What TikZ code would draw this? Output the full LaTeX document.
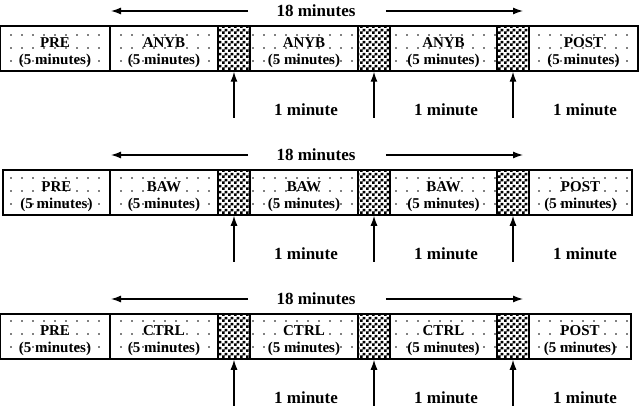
\documentclass[tikz,border=0pt]{standalone}
\usepackage{fontspec}
\setmainfont{Liberation Serif}
\usetikzlibrary{arrows.meta,patterns}
\pgfdeclarepatternformonly{sparsedots}{\pgfqpoint{-1pt}{-1pt}}{\pgfqpoint{1pt}{1pt}}{\pgfqpoint{11pt}{13pt}}{
	\pgfpathcircle{\pgfpointorigin}{0.8pt}\pgfusepath{fill}}
\pgfdeclarepatternformonly{checks}{\pgfpointorigin}{\pgfqpoint{6pt}{6pt}}{\pgfqpoint{6pt}{6pt}}{
	\pgfpathrectangle{\pgfpointorigin}{\pgfqpoint{3pt}{3pt}}
	\pgfpathrectangle{\pgfqpoint{3pt}{3pt}}{\pgfqpoint{3pt}{3pt}}\pgfusepath{fill}}
\tikzset{
	phase/.style={draw, line width=1.3pt, pattern=sparsedots, inner sep=0pt, minimum height=45pt,
		align=center, font=\fontsize{15}{17}\selectfont\bfseries},
	gap/.style={draw, line width=1.5pt, pattern=checks, inner sep=0pt, minimum height=45pt},
	span/.style={-{Latex[length=10pt,width=7pt]}, line width=1.3pt},
	lbl/.style={font=\fontsize{17}{20}\selectfont\bfseries}
}
\begin{document}
\begin{tikzpicture}[x=1pt, y=-1pt]
		\useasboundingbox (0,0) rectangle (640,412);
		\foreach \trt/\y/\lft/\rgt [count = \row] in {ANYB/26/0/638, BAW/170/3/632, CTRL/314/0/631}{
				% five minute blocks
				\foreach \name/\xa/\xb/\txt in {pre/\lft/110/PRE, a/110/218/\trt, b/250/358/\trt, c/390/497/\trt, post/529/\rgt/POST}{
						\pgfmathsetmacro\w{\xb-\xa}
						\node[phase, minimum width=\w pt] (\name\row) at ({(\xa+\xb)/2}, \y+22.5) {\rule{0pt}{19pt}\txt\\(5 minutes)};
					}
				% one minute breaks
				\foreach \xa/\xb [count = \k] in {218/250, 358/390, 497/529}{
						\pgfmathsetmacro\w{\xb-\xa}
						\node[gap, minimum width=\w pt] (g\row\k) at ({(\xa+\xb)/2}, \y+22.5) {};
						\coordinate (f\row\k) at ([yshift=-46pt]g\row\k.south);
						\draw[span] (f\row\k) -- (g\row\k.south);
						\node[lbl] (m\row\k) at ([xshift=72pt, yshift=-38pt]g\row\k.south) {1 minute};
					}
				\node[lbl] (t\row) at (316, \y-15) {18 minutes};
				\coordinate (tl\row) at (111, \y-15);
				\coordinate (tr\row) at (523, \y-15);
				\draw[span, shorten <=25pt] (t\row.west) -- (tl\row);
				\draw[span, shorten <=27pt] (t\row.east) -- (tr\row);
			}
	\end{tikzpicture}
\end{document}
